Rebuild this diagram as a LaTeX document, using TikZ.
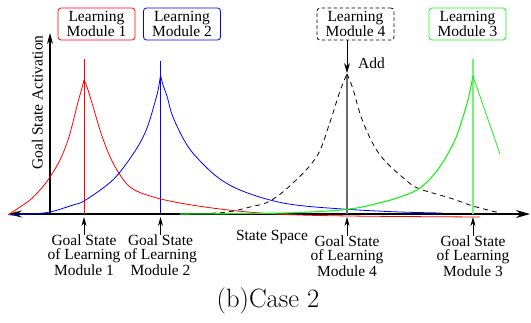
\documentclass[tikz,border=0pt]{standalone}
\usepackage{fontspec}
\newfontfamily\tfont{Liberation Serif}
\usetikzlibrary{arrows.meta}
\definecolor{cred}{rgb}{1,0,0}
\definecolor{cblue}{rgb}{0,0,1}
\definecolor{cgreen}{rgb}{0.1,0.95,0.1}
\definecolor{lgreen}{rgb}{0.45,0.95,0.45}
\definecolor{cgray}{rgb}{0.42,0.42,0.42}
\begin{document}
\begin{tikzpicture}[x=1pt,y=-1pt,
  lab/.style={font=\tfont\fontsize{15.5}{14}\selectfont, align=center, inner sep=0pt},
  modbox/.style={font=\tfont\fontsize{15.5}{13}\selectfont, align=center, inner sep=0pt,
    draw, rounded corners=3pt, minimum width=77pt, minimum height=32pt, line width=0.8pt},
  curve/.style={line width=0.8pt},
  axisline/.style={line width=1.2pt, black},
  vline/.style={line width=0.9pt},
  uparrow/.style={line width=0.8pt, -{Stealth[length=9pt,width=5pt]}},
]
\useasboundingbox (0,0) rectangle (531,322);

% axes
\coordinate (xl) at (8,214);
\coordinate (xr) at (530,214);
\coordinate (yb) at (50,214);
\coordinate (yt) at (50,33);
\draw[axisline, {Stealth[length=14pt,width=7pt]}-{Stealth[length=14pt,width=8pt]}] (xl) -- (xr);
\draw[axisline, -{Stealth[length=11pt,width=6pt]}] (yb) -- (yt);

% peak coordinates
\coordinate (p1) at (84,80);
\coordinate (p2) at (160.5,75);
\coordinate (p4) at (347,74);
\coordinate (p3) at (473,76);
\coordinate (b1) at (84,214);
\coordinate (b2) at (160.5,214);
\coordinate (b4) at (347,214);
\coordinate (b3) at (473,214);

% vertical goal lines
\draw[vline, cred] (84,59) -- (b1);
\draw[vline, cblue] (160.5,61) -- (b2);
\draw[line width=1.6pt, cgray] (p4) -- (b4);
\draw[line width=1.8pt, lgreen] (473,59) -- (b3);

% curves
\draw[curve, cred] plot[smooth, tension=0.6] coordinates {(8,215) (20,207) (30,200) (40,190) (50,177) (60,160) (68,140) (73,122) (78,102) (82,88) (p1)};
\draw[curve, cred] plot[smooth, tension=0.6] coordinates {(p1) (87,87) (92,103) (100,130) (108,152) (117,170) (130,187) (150,196) (180,203) (220,209) (260,213) (300,215) (350,216) (400,216.5) (480,217)};

\draw[curve, cblue] plot[smooth, tension=0.6] coordinates {(10,215) (30,214) (50,212) (73,205) (84,201) (107,185) (120,172) (137,148) (147,128) (155,102) (158.5,88) (p2)};
\draw[curve, cblue] plot[smooth, tension=0.6] coordinates {(p2) (163,85) (167,96) (173,117) (187,145) (203,164) (220,179) (240,190) (270,200) (300,205.5) (350,209.5) (400,212) (442,213)};

\draw[curve, black, dashed, dash pattern=on 5pt off 4pt] plot[smooth, tension=0.6] coordinates {(85,214) (200,213.5) (230,211.5) (250,207) (270,201) (293,183) (317,156) (330,122) (340,91) (p4)};
\draw[curve, black, dashed, dash pattern=on 5pt off 4pt] plot[smooth, tension=0.6] coordinates {(p4) (353,89) (363,122) (380,155) (407,181) (420,189) (450,198) (473,206) (500,213)};

\draw[line width=1.1pt, cgreen] plot[smooth, tension=0.6] coordinates {(180,214) (250,213.5) (300,212.5) (350,209) (383,202) (400,197) (417,190) (430,179) (443,162) (455,140) (462,120) (468,100) (p3)};
\draw[curve, cgreen] (p3) -- (500,154);

% module boxes
\node[modbox, cred] (m1) at (96.5,24) {\color{black}Learning\\\color{black}Module 1};
\node[modbox, cblue] (m2) at (182,24) {\color{black}Learning\\\color{black}Module 2};
\node[modbox, black, dashed, dash pattern=on 3.5pt off 2.5pt] (m4) at (355.5,24) {Learning\\Module 4};
\node[modbox, cgreen] (m3) at (467.5,24) {\color{black}Learning\\\color{black}Module 3};

% add arrow
\coordinate (at4) at (347,73);
\draw[line width=0.8pt, -{Stealth[length=10pt,width=6pt]}] (m4.south -| at4) -- (at4);
\node[lab, anchor=base] (add) at (371.5,68) {Add};

% axis labels
\node[lab, anchor=base, rotate=90] (ylab) at (42.5,102.5) {Goal State Activation};
\node[lab, anchor=base] (xlab) at (272,240) {State Space};

% goal labels
\node[lab, anchor=north] (g1) at (84,235) {Goal State\\of Learning\\Module 1};
\node[lab, anchor=north] (g2) at (160.5,235) {Goal State\\of Learning\\Module 2};
\node[lab, anchor=north] (g4) at (347,236) {Goal State\\of Learning\\Module 4};
\node[lab, anchor=north] (g3) at (473,236) {Goal State\\of Learning\\Module 3};
\coordinate (a1) at (84,217);
\coordinate (a2) at (160.5,217);
\coordinate (a4) at (347,217);
\coordinate (a3) at (473,217);
\draw[uparrow] (g1.north) -- (a1);
\draw[uparrow] (g2.north) -- (a2);
\draw[uparrow] (g4.north) -- (a4);
\draw[uparrow] (g3.north) -- (a3);

% caption
\node[anchor=base, inner sep=0pt, font=\fontsize{26.5}{30}\selectfont] (cap) at (268,307) {(b)Case 2};
\end{tikzpicture}
\end{document}
